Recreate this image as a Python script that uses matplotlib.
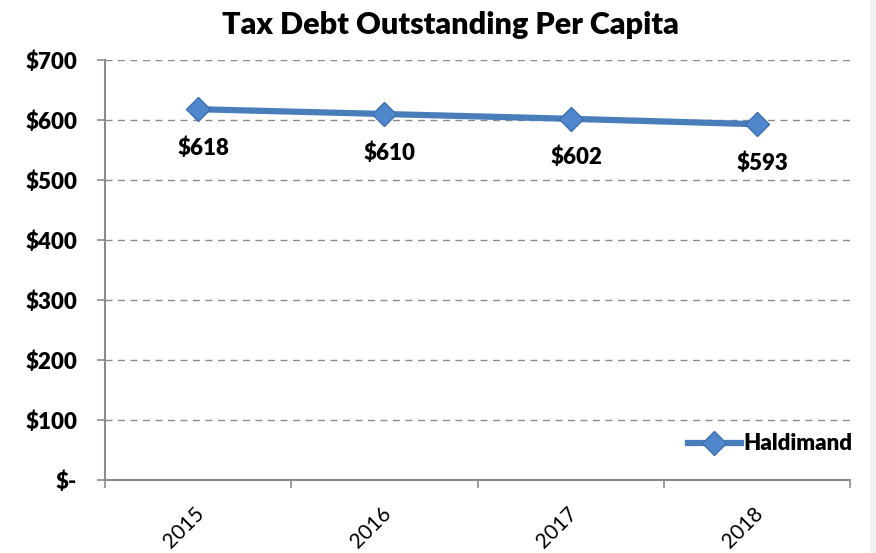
# Tax debt outstanding per capita, Haldimand 2015-2018

import matplotlib.pyplot as plt
from matplotlib.patches import Rectangle
from matplotlib.ticker import FuncFormatter

# Data
years = ["2015", "2016", "2017", "2018"]
debt_per_capita = [618, 610, 602, 593]
series_name = "Haldimand"

blue = "#4A7EBB"
grid_grey = "#8C8C8C"

plt.rcParams['font.family'] = ['Lato', 'DejaVu Sans']

fig = plt.figure(figsize=(8.76, 5.53), dpi=100)
ax = fig.add_axes([0.1199, 0.132, 0.8504, 0.7595])

# faint strip along the right edge
fig.patches.append(Rectangle((0.993, 0), 0.007, 1, transform=fig.transFigure,
                             facecolor="#F2F2F2", edgecolor="none"))

x = list(range(len(years)))
ax.plot(x, debt_per_capita, color=blue, lw=4.5, marker="D", ms=12,
        markerfacecolor="#4F86CC", markeredgecolor="#3C6FAE", mew=1,
        label=series_name, zorder=3)

# value labels under each point
for xi, v in zip(x, debt_per_capita):
    ax.annotate(f"${v}", (xi, v), xytext=(4, -28), textcoords="offset points",
                ha="center", va="center", fontsize=16, fontweight="heavy")

ax.set_xlim(-0.5, len(years) - 0.5)
ax.set_ylim(0, 700)
ax.set_yticks(range(0, 701, 100))
ax.yaxis.set_major_formatter(FuncFormatter(lambda v, p: "$-" if v == 0 else f"${int(v)}"))

# category labels, rotated, end of text sitting just right of the category centre
ax.set_xticks(x)
ax.set_xticklabels([])
ax.tick_params(axis="x", length=0)
for xi, yr in zip(x, years):
    ax.annotate(yr, (xi, 0), xycoords=("data", "axes fraction"),
                xytext=(7.5, -17), textcoords="offset points",
                rotation=45, ha="right", va="top", fontsize=15)

ax.set_xticks([i - 0.5 for i in range(len(years) + 1)], minor=True)
ax.tick_params(axis="x", which="minor", length=6, color=grid_grey, width=1.2)
ax.tick_params(axis="y", length=6, color=grid_grey, width=1.2, pad=14, labelsize=16)
for lab in ax.get_yticklabels():
    lab.set_fontweight("heavy")

ax.grid(axis="y", color=grid_grey, ls=(0, (5, 4)), lw=1)
ax.set_axisbelow(True)
for side in ["top", "right"]:
    ax.spines[side].set_visible(False)
for side in ["left", "bottom"]:
    ax.spines[side].set_color(grid_grey)
    ax.spines[side].set_linewidth(1.5)

fig.suptitle("Tax Debt Outstanding Per Capita", x=0.514, y=0.955, va="center",
             fontsize=22, fontweight="heavy")

leg = ax.legend(loc="lower right", bbox_to_anchor=(1.015, 0.04), frameon=False,
                prop={"size": 16, "weight": "heavy"}, handlelength=2.4,
                handletextpad=0.1, borderaxespad=0)

plt.savefig("out.png", dpi=100)
